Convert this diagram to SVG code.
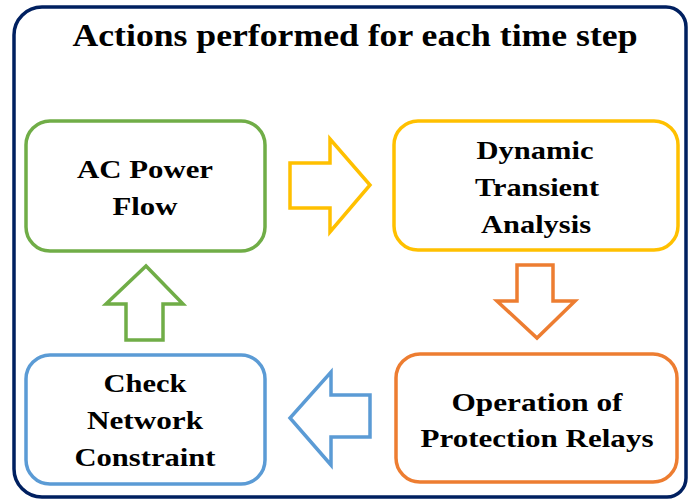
<svg xmlns="http://www.w3.org/2000/svg" width="688" height="501" viewBox="0 0 688 501">
<style>
text{font-family:"Liberation Serif","DejaVu Serif",serif;font-weight:bold;fill:#000;text-anchor:middle}
.t{font-size:32px}
.n{font-size:26px}
.box{fill:#fff;stroke-width:3.5}
.arr{fill:#fff;stroke-width:3.5;stroke-linejoin:miter}
</style>
<rect x="0" y="0" width="688" height="501" fill="#fff"/>
<path id="frame" d="M42,7 H666 A20,20 0 0 1 686,27 V478 A19,19 0 0 1 667,497 H42 A28,28 0 0 1 14,469 V35 A28,28 0 0 1 42,7 Z" fill="#fff" stroke="#002060" stroke-width="3.5"/>
<text class="t" x="355" y="46" textLength="565" lengthAdjust="spacingAndGlyphs">Actions performed for each time step</text>
<g id="ac">
<rect class="box" x="26" y="121" width="239" height="130" rx="24" stroke="#70AD47"/>
<text class="n" x="145" y="178" textLength="136" lengthAdjust="spacingAndGlyphs">AC Power</text>
<text class="n" x="145" y="215" textLength="65" lengthAdjust="spacingAndGlyphs">Flow</text>
</g>
<g id="dta">
<rect class="box" x="394" y="121" width="284" height="129" rx="24" stroke="#FFC000"/>
<text class="n" x="535" y="159" textLength="117" lengthAdjust="spacingAndGlyphs">Dynamic</text>
<text class="n" x="537" y="196" textLength="124" lengthAdjust="spacingAndGlyphs">Transient</text>
<text class="n" x="536" y="233" textLength="110" lengthAdjust="spacingAndGlyphs">Analysis</text>
</g>
<g id="opr">
<rect class="box" x="396" y="354" width="281" height="128" rx="24" stroke="#ED7D31"/>
<text class="n" x="537" y="411" textLength="171" lengthAdjust="spacingAndGlyphs">Operation of</text>
<text class="n" x="537" y="447" textLength="233" lengthAdjust="spacingAndGlyphs">Protection Relays</text>
</g>
<g id="cnc">
<rect class="box" x="26" y="355" width="239" height="129" rx="24" stroke="#5B9BD5"/>
<text class="n" x="145" y="392" textLength="83" lengthAdjust="spacingAndGlyphs">Check</text>
<text class="n" x="145" y="429" textLength="116" lengthAdjust="spacingAndGlyphs">Network</text>
<text class="n" x="145" y="466" textLength="141" lengthAdjust="spacingAndGlyphs">Constraint</text>
</g>
<g id="connectors">
<polygon class="arr" stroke="#FFC000" points="290,163 330,163 330,139 370,185 330,232 330,208 290,208"/>
<polygon class="arr" stroke="#ED7D31" points="517,265 553,265 553,301 575,301 537,338 497,301 517,301"/>
<polygon class="arr" stroke="#5B9BD5" points="370,395 331,395 331,372 290,418 331,465 331,437 370,437"/>
<polygon class="arr" stroke="#70AD47" points="126,340 163,340 163,304 183,304 146,266 106,304 126,304"/>
</g>
</svg>
